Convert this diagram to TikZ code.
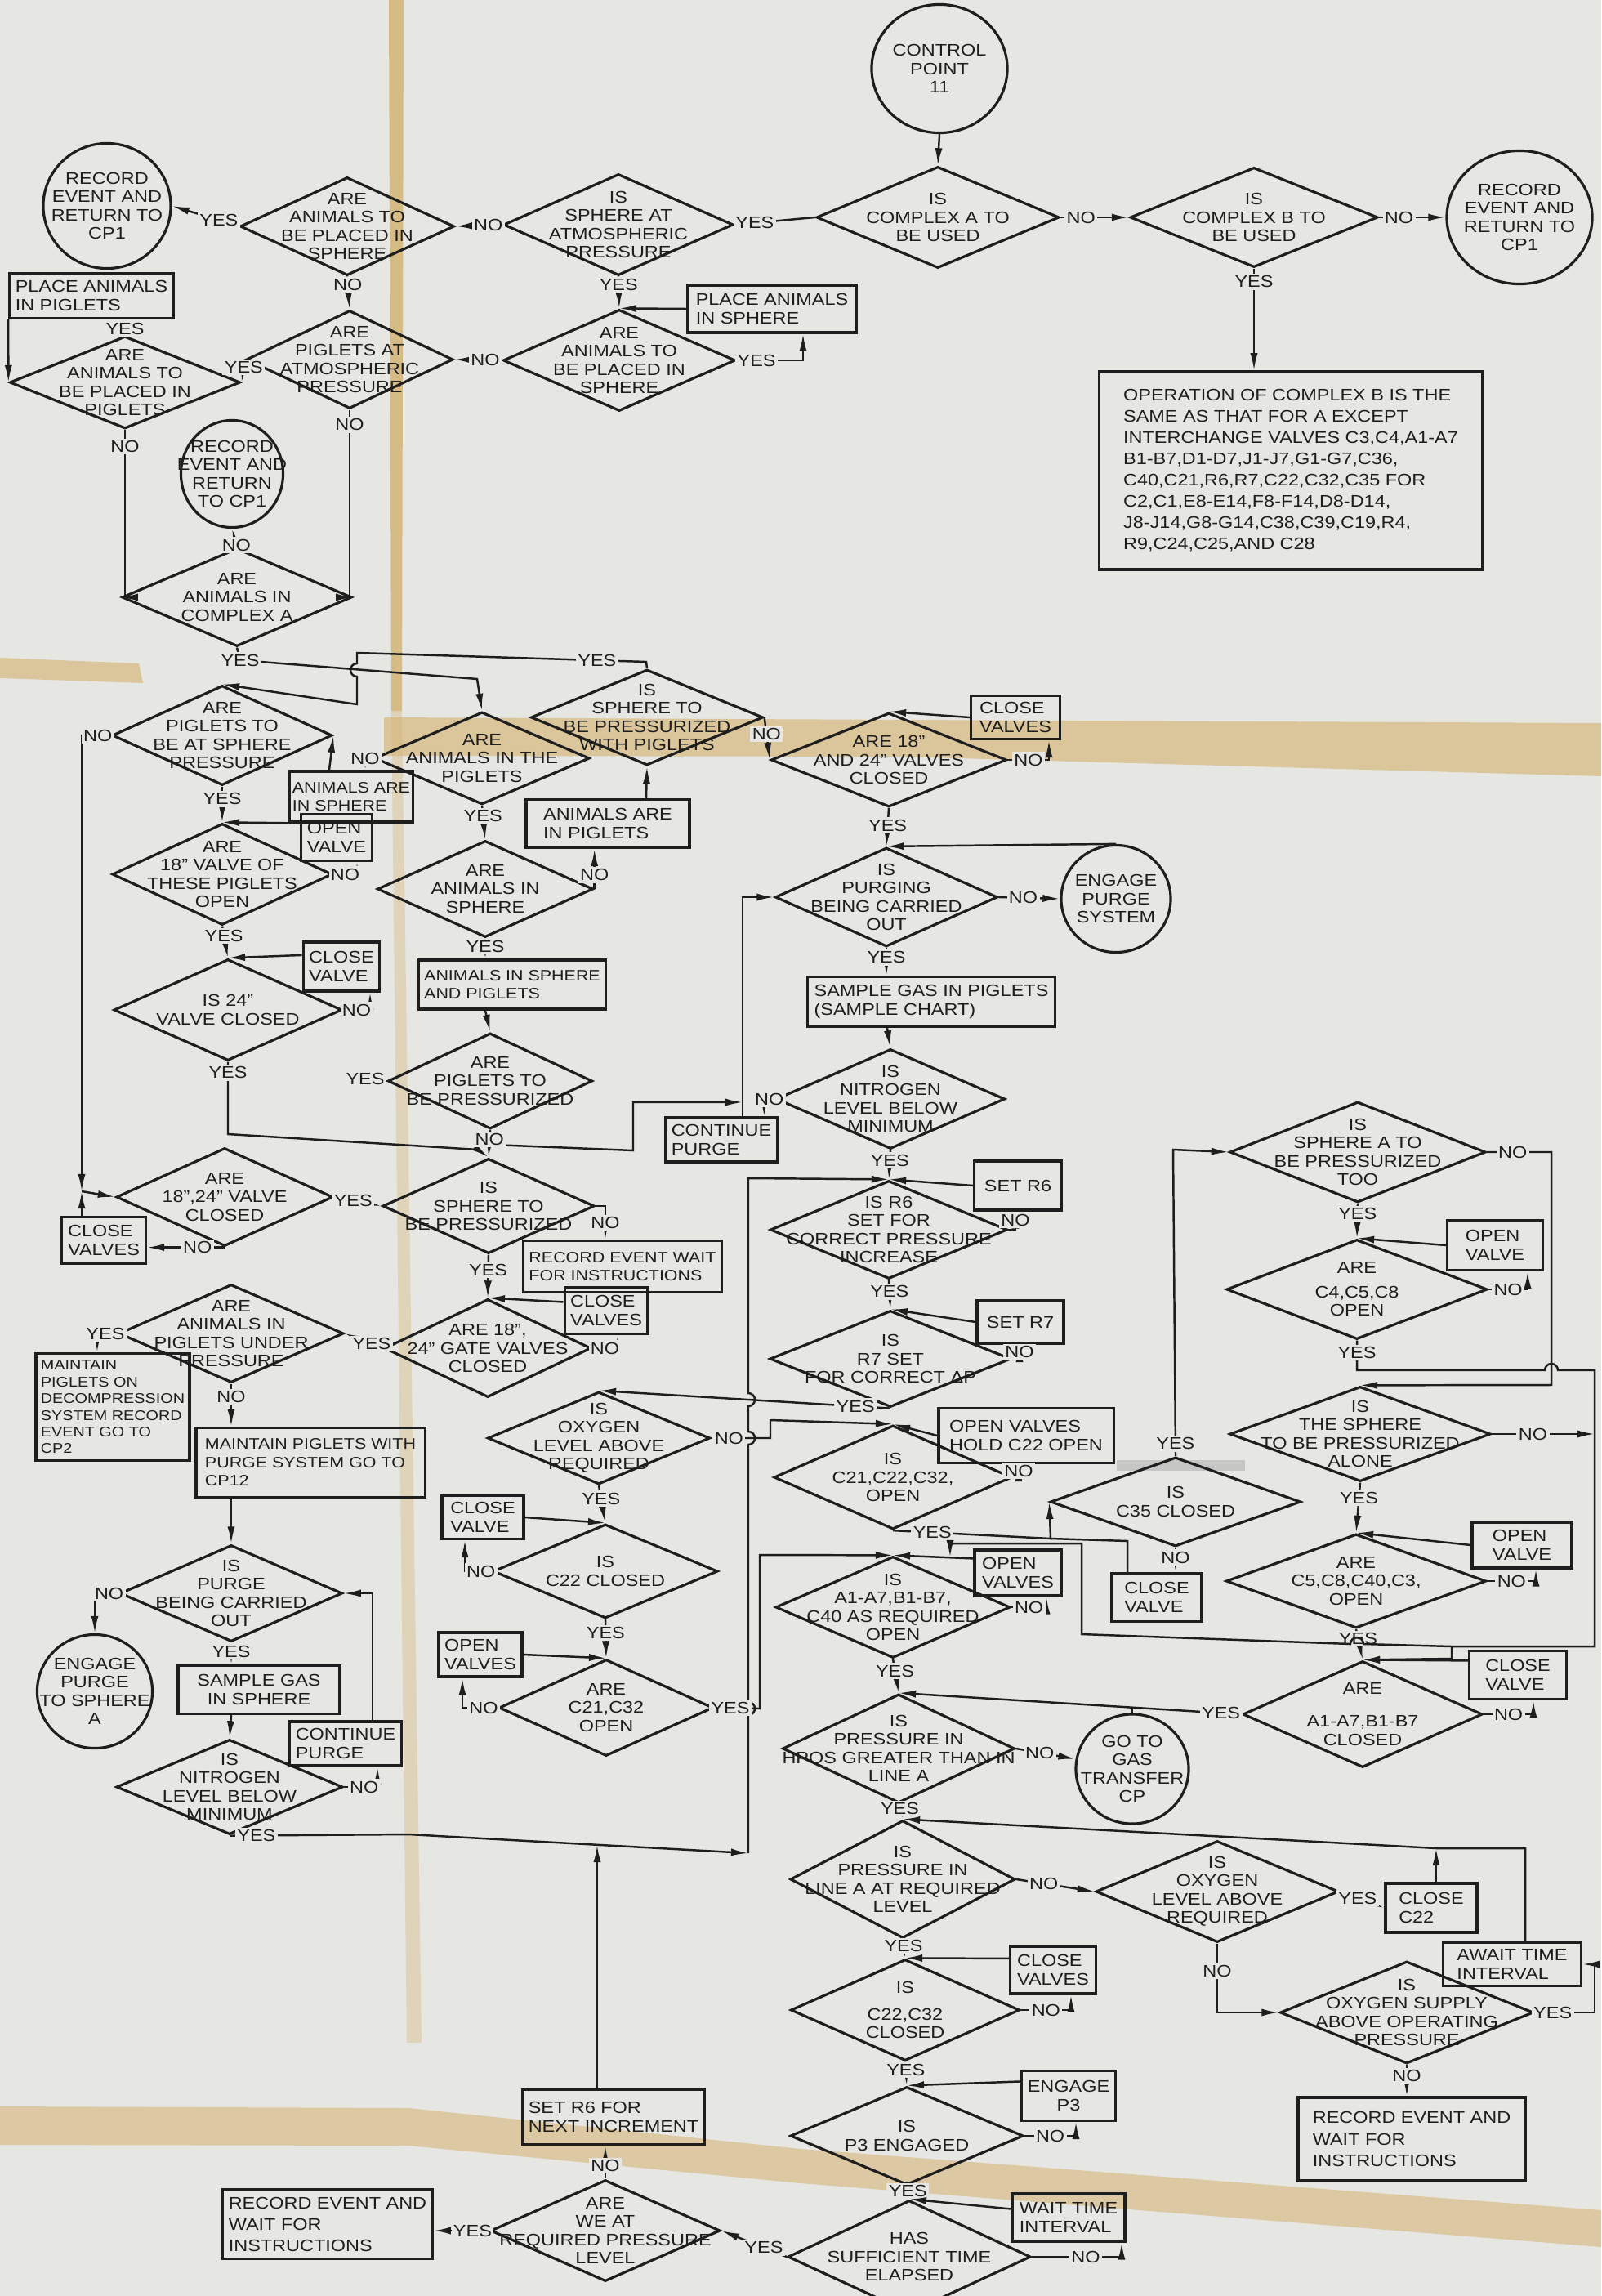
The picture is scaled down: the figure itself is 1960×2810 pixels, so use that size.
\documentclass[tikz,border=0pt]{standalone}
\usepackage{fontspec}
\setmainfont{Liberation Sans}[FakeStretch=1.15]
\usetikzlibrary{shapes.geometric,arrows.meta}
\definecolor{paper}{RGB}{230,230,227}
\definecolor{ink}{RGB}{30,30,30}
\definecolor{tape}{RGB}{212,177,110}
\newcommand{\lettering}{\fontsize{5.8}{6.4}\selectfont}
\newcommand{\narrowlettering}{\fontsize{5.3}{6.4}\selectfont}
\newcommand{\tightlettering}{\fontsize{4.9}{5.8}\selectfont}

\begin{document}
\begin{tikzpicture}[x=0.01cm, y=-0.01cm]
\tikzset{
    every node/.style={font=\lettering, text=ink},
    dec/.style 2 args={diamond, draw=ink, line width=0.9pt, aspect=2,
        inner xsep=-1cm, inner ysep=-0.4cm,
        minimum width=#1, minimum height=#2, align=center},
    term/.style 2 args={ellipse, draw=ink, line width=0.9pt,
        inner xsep=-1cm, inner ysep=-0.5cm,
        minimum width=#1, minimum height=#2, align=center},
    blk/.style 2 args={rectangle, draw=ink, line width=0.9pt,
        inner xsep=2pt, inner ysep=1pt,
        minimum width=#1, minimum height=#2, align=left},
    lbl/.style={fill=paper, inner sep=0.7pt},
    flow/.style={draw=ink, line width=0.7pt, -{Latex[length=6pt,width=2.6pt]}},
    link/.style={draw=ink, line width=0.7pt}
}

\path[use as bounding box, fill=paper] (0,0) rectangle (1960,2810);
% tape marks on the sheet
\fill[tape, opacity=0.8] (476,0) -- (494,0) -- (492,870) -- (479,870) -- cycle;
\fill[tape, opacity=0.35] (479,870) -- (492,870) -- (516,2500) -- (498,2500) -- cycle;
\fill[tape, opacity=0.6] (0,805) -- (170,812) -- (175,836) -- (0,830) -- cycle;
\fill[tape, opacity=0.6] (470,878) -- (1960,885) -- (1960,950) -- (1100,926) -- (470,925) -- cycle;
\fill[tape, opacity=0.55] (0,2578) -- (500,2580) -- (980,2630) -- (1960,2705) -- (1960,2750) -- (980,2672) -- (500,2626) -- (0,2625) -- cycle;
\fill[gray!55, opacity=0.7] (1367,1787) rectangle (1524,1800);

% complex selection
\node[term={1.66cm}{1.57cm}] (cp11) at (1150,84) {CONTROL\\POINT\\11};
\node[dec={2.97cm}{1.24cm}] (cxa) at (1148,266) {IS\\COMPLEX A TO\\BE USED};
\node[dec={3.03cm}{1.22cm}] (cxb) at (1535,266) {IS\\COMPLEX B TO\\BE USED};
\node[term={1.78cm}{1.63cm}] (recb) at (1860,266) {RECORD\\EVENT AND\\RETURN TO\\CP1};
\node[blk={4.68cm}{2.42cm}, font=\fontsize{5.8}{7.4}\selectfont] (opb) at (1580,576) {OPERATION OF COMPLEX B IS THE\\SAME AS THAT FOR A EXCEPT\\INTERCHANGE VALVES C3,C4,A1-A7\\B1-B7,D1-D7,J1-J7,G1-G7,C36,\\C40,C21,R6,R7,C22,C32,C35 FOR\\C2,C1,E8-E14,F8-F14,D8-D14,\\J8-J14,G8-G14,C38,C39,C19,R4,\\R9,C24,C25,AND C28};
\node[dec={2.81cm}{1.24cm}] (sphatm) at (757,275) {IS\\SPHERE AT\\ATMOSPHERIC\\PRESSURE};
\node[dec={2.62cm}{1.20cm}] (anisph) at (425,277) {ARE\\ANIMALS TO\\BE PLACED IN\\SPHERE};
\node[term={1.56cm}{1.53cm}] (reca) at (131,252) {RECORD\\EVENT AND\\RETURN TO\\CP1};
\node[blk={2.00cm}{0.55cm}] (plpig) at (112,362) {PLACE ANIMALS\\IN PIGLETS};
\node[dec={2.82cm}{1.13cm}] (anipig) at (153,468) {ARE\\ANIMALS TO\\BE PLACED IN\\PIGLETS};
\node[dec={2.53cm}{1.20cm}] (pigatm) at (428,440) {ARE\\PIGLETS AT\\ATMOSPHERIC\\PRESSURE};
\node[dec={2.84cm}{1.24cm}] (anisphb) at (758,441) {ARE\\ANIMALS TO\\BE PLACED IN\\SPHERE};
\node[blk={2.07cm}{0.58cm}] (plsph) at (945,378) {PLACE ANIMALS\\IN SPHERE};
\node[term={1.25cm}{1.31cm}] (recc) at (284,580) {RECORD\\EVENT AND\\RETURN\\TO CP1};
\node[dec={2.81cm}{1.20cm}] (inca) at (290,731) {ARE\\ANIMALS IN\\COMPLEX A};

% piglets and sphere
\node[dec={2.69cm}{1.22cm}] (pigsp) at (272,900) {ARE\\PIGLETS TO\\BE AT SPHERE\\PRESSURE};
\node[blk={1.38cm}{0.62cm}, font=\narrowlettering, inner xsep=1pt] (aisph) at (430,975) {ANIMALS ARE\\IN SPHERE};
\node[dec={2.63cm}{1.13cm}] (inpig) at (590,928) {ARE\\ANIMALS IN THE\\PIGLETS};
\node[dec={2.84cm}{1.17cm}] (sppig) at (792,878) {IS\\SPHERE TO\\BE PRESSURIZED\\WITH PIGLETS};
\node[blk={2.00cm}{0.59cm}] (aipig) at (744,1008) {ANIMALS ARE\\IN PIGLETS};
\node[dec={2.88cm}{1.15cm}] (vboth) at (1088,930) {ARE 18"\\AND 24" VALVES\\CLOSED};
\node[blk={1.09cm}{0.53cm}] (clva) at (1243,878) {CLOSE\\VALVES};
\node[dec={2.72cm}{1.21cm}] (purg) at (1085,1098) {IS\\PURGING\\BEING CARRIED\\OUT};
\node[term={1.34cm}{1.31cm}] (engp) at (1366,1100) {ENGAGE\\PURGE\\SYSTEM};
\node[dec={2.69cm}{1.24cm}] (veight) at (272,1070) {ARE\\18" VALVE OF\\THESE PIGLETS\\OPEN};
\node[blk={0.87cm}{0.57cm}] (opva) at (412,1025) {OPEN\\VALVE};
\node[dec={2.64cm}{1.18cm}] (aninsph) at (594,1088) {ARE\\ANIMALS IN\\SPHERE};
\node[blk={3.03cm}{0.61cm}] (sgpig) at (1140,1226) {SAMPLE GAS IN PIGLETS\\(SAMPLE CHART)};
\node[dec={2.79cm}{1.24cm}] (vtwenty) at (279,1236) {IS 24"\\VALVE CLOSED};
\node[blk={0.87cm}{0.60cm}] (clvb) at (418,1183) {CLOSE\\VALVE};
\node[blk={2.29cm}{0.60cm}, font=\narrowlettering] (aispig) at (627,1205) {ANIMALS IN SPHERE\\AND PIGLETS};
\node[dec={2.50cm}{1.17cm}] (pigpr) at (600,1323) {ARE\\PIGLETS TO\\BE PRESSURIZED};
\node[lbl] (pigpryes) at (447,1320) {YES};
\node[dec={2.80cm}{1.22cm}] (nitr) at (1090,1345) {IS\\NITROGEN\\LEVEL BELOW\\MINIMUM};
\node[blk={1.16cm}{0.54cm}] (contp) at (883,1395) {CONTINUE\\PURGE};
\node[blk={1.07cm}{0.60cm}] (setrsix) at (1246,1451) {SET R6};
\node[dec={2.90cm}{1.20cm}] (rsix) at (1088,1505) {IS R6\\SET FOR\\CORRECT PRESSURE\\INCREASE};
\node[blk={1.06cm}{0.53cm}] (setrseven) at (1249,1618) {SET R7};
\node[dec={2.95cm}{1.18cm}] (rseven) at (1090,1663) {IS\\R7 SET\\FOR CORRECT ΔP};

% sphere pressurization, left side
\node[dec={2.65cm}{1.20cm}] (vpair) at (275,1465) {ARE\\18",24" VALVE\\CLOSED};
\node[blk={1.03cm}{0.57cm}] (clvc) at (127,1518) {CLOSE\\VALVES};
\node[dec={2.59cm}{1.16cm}] (sphpr) at (598,1476) {IS\\SPHERE TO\\BE PRESSURIZED};
\node[blk={2.26cm}{0.63cm}, font=\narrowlettering] (recwait) at (762,1550) {RECORD EVENT WAIT\\FOR INSTRUCTIONS};
\node[dec={2.53cm}{1.20cm}] (gate) at (597,1650) {ARE 18",\\24" GATE VALVES\\CLOSED};
\node[blk={0.99cm}{0.57cm}] (clvd) at (742,1604) {CLOSE\\VALVES};
\node[dec={2.75cm}{1.20cm}] (undpr) at (283,1632) {ARE\\ANIMALS IN\\PIGLETS UNDER\\PRESSURE};
\node[blk={1.88cm}{1.31cm}, font=\tightlettering, inner xsep=1pt] (maint) at (138,1722) {MAINTAIN\\PIGLETS ON\\DECOMPRESSION\\SYSTEM RECORD\\EVENT GO TO\\CP2};
\node[blk={2.80cm}{0.85cm}, font=\narrowlettering] (mpurge) at (380,1790) {MAINTAIN PIGLETS WITH\\PURGE SYSTEM GO TO\\CP12};
\node[dec={2.72cm}{1.18cm}] (purgb) at (283,1950) {IS\\PURGE\\BEING CARRIED\\OUT};
\node[term={1.41cm}{1.39cm}] (engpb) at (116,2070) {ENGAGE\\PURGE\\TO SPHERE\\A};
\node[blk={1.98cm}{0.59cm}, align=center] (sgsph) at (317,2068) {SAMPLE GAS\\IN SPHERE};
\node[dec={2.77cm}{1.16cm}] (nitrb) at (281,2187) {IS\\NITROGEN\\LEVEL BELOW\\MINIMUM};
\node[blk={1.03cm}{0.54cm}] (contpb) at (423,2134) {CONTINUE\\PURGE};

% valves, middle
\node[dec={2.72cm}{1.13cm}] (oxya) at (733,1760) {IS\\OXYGEN\\LEVEL ABOVE\\REQUIRED};
\node[blk={1.00cm}{0.53cm}] (clve) at (591,1857) {CLOSE\\VALVE};
\node[dec={2.75cm}{1.15cm}] (c22) at (741,1923) {IS\\C22 CLOSED};
\node[blk={0.97cm}{0.54cm}] (opvc) at (588,2025) {OPEN\\VALVES};
\node[dec={2.62cm}{1.18cm}] (c2132) at (742,2090) {ARE\\C21,C32\\OPEN};
\node[dec={2.91cm}{1.27cm}] (c212232) at (1093,1808) {IS\\C21,C22,C32,\\OPEN};
\node[blk={2.14cm}{0.67cm}] (opvhold) at (1256,1757) {OPEN VALVES\\HOLD C22 OPEN};
\node[dec={3.06cm}{1.09cm}] (c35) at (1439,1838) {IS\\C35 CLOSED};
\node[blk={1.10cm}{0.59cm}] (clvf) at (1416,1955) {CLOSE\\VALVE};
\node[dec={2.87cm}{1.24cm}] (abreq) at (1093,1967) {IS\\A1-A7,B1-B7,\\C40 AS REQUIRED\\OPEN};
\node[blk={1.06cm}{0.56cm}] (opve) at (1246,1925) {OPEN\\VALVES};

% sphere A, right side
\node[dec={3.13cm}{1.23cm}] (sphtoo) at (1662,1410) {IS\\SPHERE A TO\\BE PRESSURIZED\\TOO};
\node[blk={1.17cm}{0.61cm}] (opvb) at (1830,1524) {OPEN\\VALVE};
\node[dec={3.19cm}{1.22cm}] (cfour) at (1661,1578) {ARE\\[2pt]C4,C5,C8\\OPEN};
\node[dec={3.19cm}{1.16cm}] (sphal) at (1665,1755) {IS\\THE SPHERE\\TO BE PRESSURIZED\\ALONE};
\node[blk={1.22cm}{0.56cm}] (opvd) at (1863,1891) {OPEN\\VALVE};
\node[dec={3.18cm}{1.15cm}] (cfive) at (1660,1935) {ARE\\C5,C8,C40,C3,\\OPEN};
\node[blk={1.19cm}{0.59cm}] (clvg) at (1858,2050) {CLOSE\\VALVE};
\node[dec={2.93cm}{1.30cm}] (abcl) at (1668,2098) {ARE\\[5pt]A1-A7,B1-B7\\CLOSED};

% pressure in line A
\node[dec={2.84cm}{1.33cm}] (hpos) at (1100,2140) {IS\\PRESSURE IN\\HPOS GREATER THAN IN\\LINE A};
\node[term={1.38cm}{1.34cm}] (gas) at (1386,2165) {GO TO\\GAS\\TRANSFER\\CP};
\node[dec={2.75cm}{1.44cm}] (linea) at (1105,2300) {IS\\PRESSURE IN\\LINE A AT REQUIRED\\LEVEL};
\node[dec={2.97cm}{1.24cm}] (oxyb) at (1490,2315) {IS\\OXYGEN\\LEVEL ABOVE\\REQUIRED};
\node[blk={1.12cm}{0.60cm}] (clctt) at (1752,2335) {CLOSE\\C22};
\node[blk={1.69cm}{0.53cm}] (await) at (1851,2404) {AWAIT TIME\\INTERVAL};
\node[dec={3.10cm}{1.25cm}] (oxsup) at (1722,2463) {IS\\OXYGEN SUPPLY\\ABOVE OPERATING\\PRESSURE};
\node[blk={2.78cm}{1.02cm}, font=\fontsize{5.8}{7.6}\selectfont] (recwb) at (1728,2618) {RECORD EVENT AND\\WAIT FOR\\INSTRUCTIONS};
\node[dec={2.80cm}{1.24cm}] (ctc) at (1108,2460) {IS\\[3pt]C22,C32\\CLOSED};
\node[blk={1.05cm}{0.58cm}] (clvh) at (1289,2411) {CLOSE\\VALVES};
\node[dec={2.85cm}{1.20cm}] (pthree) at (1110,2614) {IS\\P3 ENGAGED};
\node[blk={1.06cm}{0.61cm}, align=center] (engpc) at (1308,2565) {ENGAGE\\P3};
\node[dec={2.97cm}{1.38cm}] (suff) at (1113,2762) {HAS\\SUFFICIENT TIME\\ELAPSED};
\node[blk={1.38cm}{0.58cm}] (waitb) at (1308,2714) {WAIT TIME\\INTERVAL};
\node[dec={2.81cm}{1.24cm}] (reqp) at (741,2730) {ARE\\WE AT\\REQUIRED PRESSURE\\LEVEL};
\node[blk={2.42cm}{0.85cm}, font=\fontsize{5.8}{7.4}\selectfont] (recwc) at (401,2722) {RECORD EVENT AND\\WAIT FOR\\INSTRUCTIONS};
\node[blk={1.97cm}{0.67cm}] (setnext) at (751,2591) {SET R6 FOR\\NEXT INCREMENT};

% junctions
\coordinate (jv) at (100,1458);
\coordinate (jpp) at (603,1401);
\coordinate (jpurge) at (909,1349);
\coordinate (jlong) at (916,2268);
\coordinate (jnext) at (731,2258);
\coordinate (jclose) at (1758,2262);
\coordinate (jright) at (1777,2015);
\coordinate (jab) at (1163,1906);
\coordinate (jc35) at (1286,1883);

% connectors, top
\draw[flow] (cp11.south) -- (cxa.north);
\draw[flow] (cxa.west) -- node[lbl,pos=0.75]{YES} (sphatm.east);
\draw[flow] (cxa.east) -- node[lbl,pos=0.3]{NO} (cxb.west);
\draw[flow] (cxb.east) -- node[lbl,pos=0.3]{NO} (recb.west);
\draw[flow] (cxb.south) -- node[lbl,pos=0.13]{YES} (cxb.south |- opb.north);
\draw[flow] (sphatm.west) -- node[lbl,pos=0.3]{NO} (anisph.east);
\draw[flow] (anisph.west) -- node[lbl,pos=0.3]{YES} (reca.east);
\draw[flow] (anisph.south) -- node[lbl,pos=0.25]{NO} (pigatm.north);
\draw[flow] (sphatm.south) -- node[lbl,pos=0.25]{YES} (anisphb.north);
\draw[flow] (anisphb.east) -- node[lbl,pos=0.3]{YES} (983,441) -- (983,441 |- plsph.south);
\draw[flow] (plsph.west) -- (anisphb.north);
\draw[flow] (anisphb.west) -- node[lbl,pos=0.35]{NO} (pigatm.east);
\draw[flow] (pigatm.west) -- node[lbl,pos=0.35]{YES} (anipig.east);
\draw[flow] (anipig.north) -- node[lbl,pos=0.4]{YES} (anipig.north |- plpig.south);
\draw[flow] (plpig.south west) -- (anipig.west);
\draw[flow] (anipig.south) -- node[lbl,pos=0.1]{NO} (anipig.south |- inca.west) -- (inca.west);
\draw[flow] (pigatm.south) -- node[lbl,pos=0.08]{NO} (pigatm.south |- inca.east) -- (inca.east);
\draw[flow] (inca.north) -- node[lbl,pos=0.1]{NO} (recc.south);
\draw[flow] (inca.south) -- (294,808) node[lbl]{YES} -- (584,831) -- (inpig.north);
\draw[flow] (sppig.north) -- (791,810) -- node[lbl,pos=0.17]{YES} (437,799) -- (437,812)
    arc[start angle=90,end angle=270,radius=0.08cm] -- (437,862) -- (pigsp.north);

% connectors, piglets
\draw[flow] (inpig.south) -- node[lbl,pos=0.3]{YES} (aninsph.north);
\draw[flow] (inpig.west) -- node[lbl,pos=1]{NO} (447,928) -- (447,928 |- aisph.north);
\draw[flow] (403,945 |- aisph.north) -- (pigsp.east);
\draw[flow] (aninsph.east) -- node[lbl,pos=0.35]{NO} (aninsph.east |- aipig.south);
\draw[flow] (791,978 |- aipig.north) -- (sppig.south);
\draw[flow] (sppig.east) -- node[lbl,pos=0.4]{NO} (vboth.west);
\draw[flow] (clva.west) -- (vboth.north);
\draw[flow] (vboth.east) -| node[lbl,pos=0.25]{NO} (1284,930 |- clva.south);
\draw[flow] (vboth.south) -- node[lbl,pos=0.45]{YES} (purg.north);
\draw[flow] (engp.north) -- (purg.north);
\draw[flow] (purg.east) -- node[lbl,pos=0.4]{NO} (engp.west);
\draw[flow] (purg.south) -- node[lbl,pos=0.35]{YES} (purg.south |- sgpig.north);
\draw[flow] (1086,0 |- sgpig.south) -- (nitr.north);
\draw[flow] (nitr.south) -- node[lbl,pos=0.35]{YES} (rsix.north);
\draw[flow] (nitr.west) -| node[lbl,pos=0.25]{NO} ([xshift=-5pt]contp.north east);
\draw[flow] (909,0 |- contp.north) |- (purg.west);
\draw[flow] (jpp) -- (775,1408) -- (775,1349) -- (jpurge);
\draw[flow] (setrsix.west) -- (rsix.north);
\draw[flow] (rsix.east) -| node[lbl,pos=0.75]{NO} (1243,1505 |- setrsix.south);
\draw[flow] (rsix.south) -- node[lbl,pos=0.4]{YES} (rseven.north);
\draw[flow] (setrseven.west) -- (rseven.north);
\draw[flow] (rseven.east) -| node[lbl,pos=0.75]{NO} (1248,1663 |- setrseven.south);
\draw[flow] (rseven.south) -- node[lbl,pos=0.12]{YES} (oxya.north);

% connectors, left side
\draw[flow] (pigsp.south) -- node[lbl,pos=0.35]{YES} (veight.north);
\draw[flow] ([yshift=5pt]opva.west) -- (veight.north);
\draw[flow] (veight.east) -| node[lbl,pos=0.25]{NO} (437,1070 |- opva.south);
\draw[flow] (veight.south) -- node[lbl,pos=0.3]{YES} (vtwenty.north);
\draw[flow] ([yshift=4pt]clvb.west) -- (vtwenty.north);
\draw[flow] (vtwenty.east) -| node[lbl,pos=0.25]{NO} (453,1236 |- clvb.south);
\draw[flow] (vtwenty.south) -- node[lbl,pos=0.15]{YES} (279,1388) -- (585,1407) -- (sphpr.north);
\draw[flow] (aninsph.south) -- node[lbl,pos=0.4]{YES} (aninsph.south |- aispig.north);
\draw[flow] (594,0 |- aispig.south) -- (pigpr.north);
\draw[flow] (pigpr.south) -- node[lbl,pos=0.35]{NO} (sphpr.north);
\draw[flow] (pigsp.west) -- node[lbl,pos=0.45]{NO} (100,900) -- (jv);
\draw[flow] (100,0 |- clvc.north) -- (jv);
\draw[flow] (jv) -- (vpair.west);
\draw[flow] (vpair.south) -- node[lbl,pos=0.35]{NO} (vpair.south -| clvc.east);
\draw[flow] (vpair.east) -- node[lbl,pos=0.4]{YES} (sphpr.west);
\draw[flow] (sphpr.east) -| node[lbl,pos=0.75]{NO} (741,1476 |- recwait.north);
\draw[flow] (sphpr.south) -- node[lbl,pos=0.35]{YES} (gate.north);
\draw[flow] ([yshift=3pt]clvd.west) -- (gate.north);
\draw[flow] (gate.east) -| node[lbl,pos=0.25]{NO} (756,1650 |- clvd.south);
\draw[flow] (gate.west) -- node[lbl,pos=0.3]{YES} (undpr.east);
\draw[flow] (undpr.west) -| node[lbl,pos=0.3]{YES} (119,1632 |- maint.north);
\draw[flow] (undpr.south) -- node[lbl,pos=0.3]{NO} (undpr.south |- mpurge.north);
\draw[flow] (283,0 |- mpurge.south) -- (purgb.north);
\draw[flow] (purgb.west) -| node[lbl,pos=0.2]{NO} (engpb.north);
\draw[flow] (purgb.south) -- node[lbl,pos=0.4]{YES} (purgb.south |- sgsph.north);
\draw[flow] (283,0 |- sgsph.south) -- (nitrb.north);
\draw[flow] (nitrb.east) -| node[lbl,pos=0.3]{NO} (462,2187 |- contpb.south);
\draw[flow] (456,0 |- contpb.north) |- (purgb.east);
\draw[flow] (nitrb.south) -- node[lbl,pos=0.15]{YES} (500,2245) -- (jlong);
\draw[flow] (jlong) -- (916,2099) arc[start angle=-90,end angle=90,radius=0.08cm]
    -- (916,1768) arc[start angle=-90,end angle=90,radius=0.08cm]
    -- (916,1721) arc[start angle=-90,end angle=90,radius=0.08cm]
    -- (916,1442) -- (rsix.north);

% connectors, middle
\draw[flow] (oxya.south) -- node[lbl,pos=0.35]{YES} (c22.north);
\draw[flow] (clve.east) -- (c22.north);
\draw[flow] (c22.west) -| node[lbl,pos=0.2]{NO} (569,1923 |- clve.south);
\draw[flow] (c22.south) -- node[lbl,pos=0.35]{YES} (c2132.north);
\draw[flow] (opvc.east) -- (c2132.north);
\draw[flow] (c2132.west) -| node[lbl,pos=0.2]{NO} (566,2090 |- opvc.south);
\draw[flow] (c2132.east) -- node[lbl,pos=0.35]{YES} (930,2091) -- (930,1903) -- (abreq.north);
\draw[flow] (oxya.east) -- node[lbl,pos=0.3]{NO} (943,1760) -- (943,1738) -- (c212232.north);
\draw[flow] (opvhold.west) -- (c212232.north);
\draw[flow] (c212232.east) -| node[lbl,pos=0.75]{NO} (1247,1808 |- opvhold.south);
\draw[flow] (c212232.south) -- node[lbl,pos=0.25]{YES} (jc35) -- (c35.west);
\draw[flow] (c35.south) -- node[lbl,pos=0.4]{NO} (c35.south |- clvf.north);
\draw[link] (1380,0 |- clvf.north) -- (1380,1886) -- (jc35);
\draw[flow] (c35.north) -- node[lbl,pos=0.04]{YES} (1436,1407) -- (sphtoo.west);
\draw[flow] ([yshift=5pt]opve.west) -- (abreq.north);
\draw[flow] (abreq.east) -| node[lbl,pos=0.25]{NO} (1281,1967 |- opve.south);
\draw[flow] (abreq.south) -- node[lbl,pos=0.35]{YES} (hpos.north);

% connectors, right side
\draw[flow] (sphtoo.south) -- node[lbl,pos=0.3]{YES} (cfour.north);
\draw[flow] (opvb.west) -- (cfour.north);
\draw[flow] (cfour.east) -| node[lbl,pos=0.25]{NO} (1870,1578 |- opvb.south);
\draw[flow] (sphtoo.east) -- node[lbl,pos=0.4]{NO} (1899,1410) -- (1899,1695) -- (sphal.north);
\draw[flow] (cfour.south) -- node[lbl,pos=0.4]{YES} (1661,1677) -- (1891,1677)
    arc[start angle=180,end angle=0,radius=0.08cm] -- (1952,1677) -- (1952,2015)
    -- (jright) -- (1777,2030) -- (abcl.north);
\draw[flow] (sphal.east) -- node[lbl,pos=0.4]{NO} (sphal.east -| 1952,0);
\draw[flow] (sphal.south) -- node[lbl,pos=0.3]{YES} (cfive.north);
\draw[flow] (opvd.west) -- (cfive.north);
\draw[flow] (cfive.east) -| node[lbl,pos=0.25]{NO} (1880,1935 |- opvd.south);
\draw[flow] (cfive.south) -- node[lbl,pos=0.3]{YES} (abcl.north);
\draw[flow] ([yshift=5pt]clvg.west) -- (abcl.north);
\draw[flow] (abcl.east) -| node[lbl,pos=0.25]{NO} (1877,2098 |- clvg.south);
\draw[flow] (jright) -- (1669,2012) arc[start angle=0,end angle=180,radius=0.08cm]
    -- (1324,2000) -- (1324,1889) -- (1163,1889) -- (jab);
\draw[flow] (abcl.west) -- node[lbl,pos=0.06]{YES} (hpos.north);
\draw[link] (gas.north) -- (1386,2090);
\draw[flow] (hpos.east) -- node[lbl,pos=0.4]{NO} (gas);
\draw[flow] (hpos.south) -- node[lbl,pos=0.3]{YES} (linea.north);

% connectors, bottom
\draw[flow] (linea.east) -- node[lbl,pos=0.35]{NO} (oxyb.west);
\draw[flow] (oxyb.east) -- node[lbl,pos=0.4]{YES} (clctt.west);
\draw[flow] (1758,0 |- clctt.north) -- (jclose);
\draw[flow] (1867,0 |- await.north) |- (jclose) -- (linea.north);
\draw[flow] (oxyb.south) |- node[lbl,pos=0.2]{NO} (oxsup.west);
\draw[flow] (oxsup.east) -- node[lbl,pos=0.3]{YES} (1952,2463) |- (await.east);
\draw[flow] (oxsup.south) -- node[lbl,pos=0.35]{NO} (oxsup.south |- recwb.north);
\draw[flow] (linea.south) -- node[lbl,pos=0.35]{YES} (ctc.north);
\draw[flow] ([yshift=4pt]clvh.west) -- (ctc.north);
\draw[flow] (ctc.east) -| node[lbl,pos=0.25]{NO} (1311,2460 |- clvh.south);
\draw[flow] (ctc.south) -- node[lbl,pos=0.35]{YES} (pthree.north);
\draw[flow] ([yshift=5pt]engpc.west) -- (pthree.north);
\draw[flow] (pthree.east) -| node[lbl,pos=0.25]{NO} (1317,2614 |- engpc.south);
\draw[flow] (pthree.south) -- node[lbl,pos=0.4]{YES} (suff.north);
\draw[flow] ([yshift=3pt]waitb.west) -- (suff.north);
\draw[flow] (suff.east) -| node[lbl,pos=0.3]{NO} (1373,2762 |- waitb.south);
\draw[flow] (suff.west) -- node[lbl,pos=0.35]{YES} (reqp.east);
\draw[flow] (reqp.west) -- node[lbl,pos=0.3]{YES} (reqp.west -| recwc.east);
\draw[flow] (reqp.north) -- node[lbl,pos=0.4]{NO} (reqp.north |- setnext.south);
\draw[flow] (731,0 |- setnext.north) -- (jnext);
\end{tikzpicture}
\end{document}
